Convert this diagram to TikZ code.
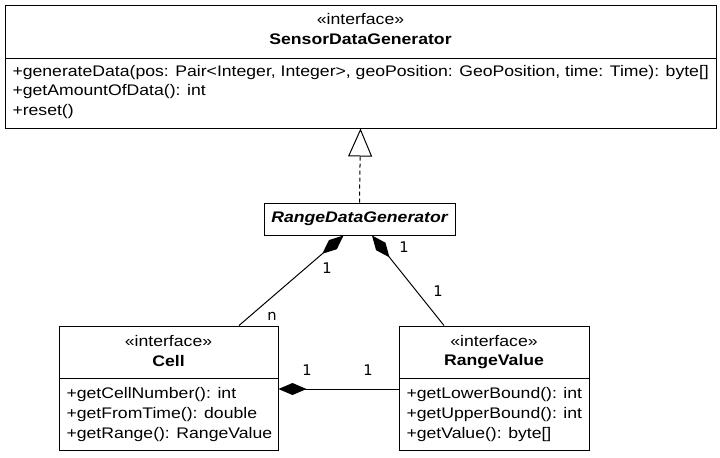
\documentclass[tikz,border=0pt]{standalone}
\usepackage{fontspec}
\setmainfont{Liberation Sans}[FakeStretch=1.15]
\newfontfamily\lblfont{DejaVu Sans}
\usetikzlibrary{arrows.meta,calc}
\begin{document}
\begin{tikzpicture}[x=0.75pt,y=-0.75pt,line width=0.75pt,
  box/.style={draw,rectangle,inner sep=0pt,fill=white},
  txt/.style={inner sep=0pt,font=\fontsize{11.5}{13}\selectfont},
  meth/.style={txt,anchor=west},
  lbl/.style={inner sep=0pt,font=\lblfont\fontsize{11}{13}\selectfont},
  comp/.style={{Diamond[length=21pt,width=9pt,fill=black]}-},
  real/.style={dash pattern=on 3pt off 2.25pt,-{Triangle[open,length=21pt,width=18pt,fill=white]}}]
\useasboundingbox (0,0) rectangle (720,457);
% top box
\node[box,minimum width=533.25pt,minimum height=92.25pt] (sdg) at (360.5,66.5) {};
\draw (5,58) coordinate (sdgdl) -- (716,58) coordinate (sdgdr);
\node[txt] (sdgs) at (360.5,19.5) {«interface»};
\node[txt,font=\fontsize{11.5}{13}\selectfont\bfseries] (sdgn) at (360.5,39.5) {SensorDataGenerator};
\node[meth] (m1) at (12,72.5) {+generateData(pos: Pair<Integer, Integer>, geoPosition: GeoPosition, time: Time): byte[]};
\node[meth] (m2) at (12,92) {+getAmountOfData(): int};
\node[meth] (m3) at (12,111.5) {+reset()};
% range data generator
\node[box,minimum width=143.25pt,minimum height=24pt,font=\fontsize{11.5}{13}\selectfont\bfseries\itshape] (rdg) at (359.5,219) {RangeDataGenerator};
% cell
\node[box,minimum width=164.25pt,minimum height=93pt] (cell) at (168.5,388) {};
\draw (59,378) -- (278,378);
\node[txt] (cs) at (168.5,341.5) {«interface»};
\node[txt,font=\fontsize{11.5}{13}\selectfont\bfseries] (cn) at (168.5,361.5) {Cell};
\node[meth] (c1) at (66,394.5) {+getCellNumber(): int};
\node[meth] (c2) at (66,414.5) {+getFromTime(): double};
\node[meth] (c3) at (66,435) {+getRange(): RangeValue};
% range value
\node[box,minimum width=142.5pt,minimum height=93pt] (rv) at (494,388) {};
\draw (399,378) -- (589,378);
\node[txt] (rs) at (494,341.5) {«interface»};
\node[txt,font=\fontsize{11.5}{13}\selectfont\bfseries] (rn) at (494,361.5) {RangeValue};
\node[meth] (r1) at (406,394.5) {+getLowerBound(): int};
\node[meth] (r2) at (406,414.5) {+getUpperBound(): int};
\node[meth] (r3) at (406,435) {+getValue(): byte[]};
% connectors
\draw[real] (rdg.north) -- (sdg.south);
\draw[comp] ($(rdg.south)+(-16,0)$) -- ($(cell.north)+(70.5,0)$);
\draw[comp] ($(rdg.south)+(12.5,0)$) -- ($(rv.north)+(-50,0)$);
\draw[comp] ($(cell.east)+(0,1)$) -- ($(rv.west)+(0,1)$);
% labels
\node[lbl] (l1) at (327,268) {1};
\node[lbl] (l2) at (272,316) {n};
\node[lbl] (l3) at (404,247) {1};
\node[lbl] (l4) at (438,291) {1};
\node[lbl] (l5) at (307,370) {1};
\node[lbl] (l6) at (368,370) {1};
\end{tikzpicture}
\end{document}
